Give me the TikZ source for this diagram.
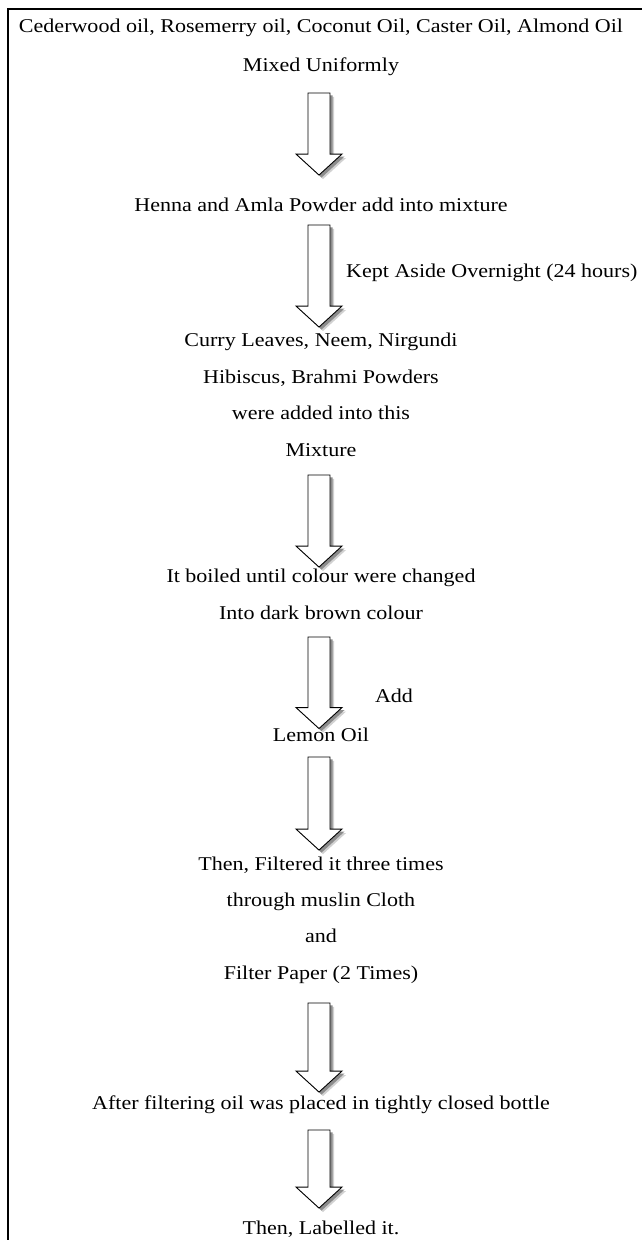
\documentclass[tikz,border=0pt]{standalone}
\usepackage{fontspec}
\setmainfont[FakeStretch=1.13]{Liberation Serif}
\usetikzlibrary{calc}
\tikzset{
    steptext/.style={inner sep=0pt, font=\fontsize{19.5}{22}\selectfont, text height=14pt, text depth=4.5pt},
    arrowbody/.style={fill=white, draw=black, line width=0.9pt, line join=miter},
    arrowshade/.style={fill=black!45},
    arrowhalo/.style={fill=black!18},
}
\newcommand{\arrowoutline}[1]{(\x1-11pt+#1,\y1-#1) -- (\x1+11pt+#1,\y1-#1) -- (\x1+11pt+#1,\y2+21pt-#1) -- (\x1+23pt+#1,\y2+21pt-#1) -- (\x1+#1,\y2-#1) -- (\x1-23pt+#1,\y2+21pt-#1) -- (\x1-11pt+#1,\y2+21pt-#1) -- cycle}
\newcommand{\flowarrow}[4]{%
    \path [arrowhalo] let \p1=([xshift=-2pt,yshift=-#3pt]#1.south), \p2=([yshift=#4pt]#2.north) in \arrowoutline{4pt};
    \path [arrowshade] let \p1=([xshift=-2pt,yshift=-#3pt]#1.south), \p2=([yshift=#4pt]#2.north) in \arrowoutline{2.5pt};
    \draw [arrowbody] let \p1=([xshift=-2pt,yshift=-#3pt]#1.south), \p2=([yshift=#4pt]#2.north) in \arrowoutline{0pt};
}
\begin{document}
\begin{tikzpicture}[x=1pt,y=-1pt]
            \useasboundingbox [] (0,0) rectangle (642,1240);
            \draw [line width=2pt] (8,1240) -- (8,9) -- (642,9);
            \node [steptext] (oils) at(321,28) {Cederwood oil, Rosemerry oil, Coconut Oil, Caster Oil, Almond Oil};
            \node [steptext] (mix) at(321,67) {Mixed Uniformly};
            \node [steptext] (henna) at(321,207) {Henna and Amla Powder add into mixture};
            \node [steptext, anchor=west] (kept) at(346,273) {Kept Aside Overnight (24 hours)};
            \node [steptext] (curry) at(321,342) {Curry Leaves, Neem, Nirgundi};
            \node [steptext] (hibiscus) at(321,379) {Hibiscus, Brahmi Powders};
            \node [steptext] (added) at(321,415) {were added into this};
            \node [steptext] (mixture) at(321,452) {Mixture};
            \node [steptext] (boiled) at(321,578) {It boiled until colour were changed};
            \node [steptext] (brown) at(321,615) {Into dark brown colour};
            \node [steptext] (add) at(394,698) {Add};
            \node [steptext] (lemon) at(321,737) {Lemon Oil};
            \node [steptext] (filtered) at(321,866) {Then, Filtered it three times};
            \node [steptext] (muslin) at(321,902) {through muslin Cloth};
            \node [steptext] (and) at(321,938) {and};
            \node [steptext] (paper) at(321,975) {Filter Paper (2 Times)};
            \node [steptext] (bottle) at(321,1105) {After filtering oil was placed in tightly closed bottle};
            \node [steptext] (label) at(321,1230) {Then, Labelled it.};
            \flowarrow{mix}{henna}{16.5}{22.5}
            \flowarrow{henna}{curry}{8.5}{5.5}
            \flowarrow{mixture}{boiled}{13.5}{1.5}
            \flowarrow{brown}{lemon}{12.5}{-1}
            \flowarrow{lemon}{filtered}{10.5}{6.5}
            \flowarrow{paper}{bottle}{18.5}{3.5}
            \flowarrow{bottle}{label}{15.5}{12.5}
        \end{tikzpicture}
\end{document}
